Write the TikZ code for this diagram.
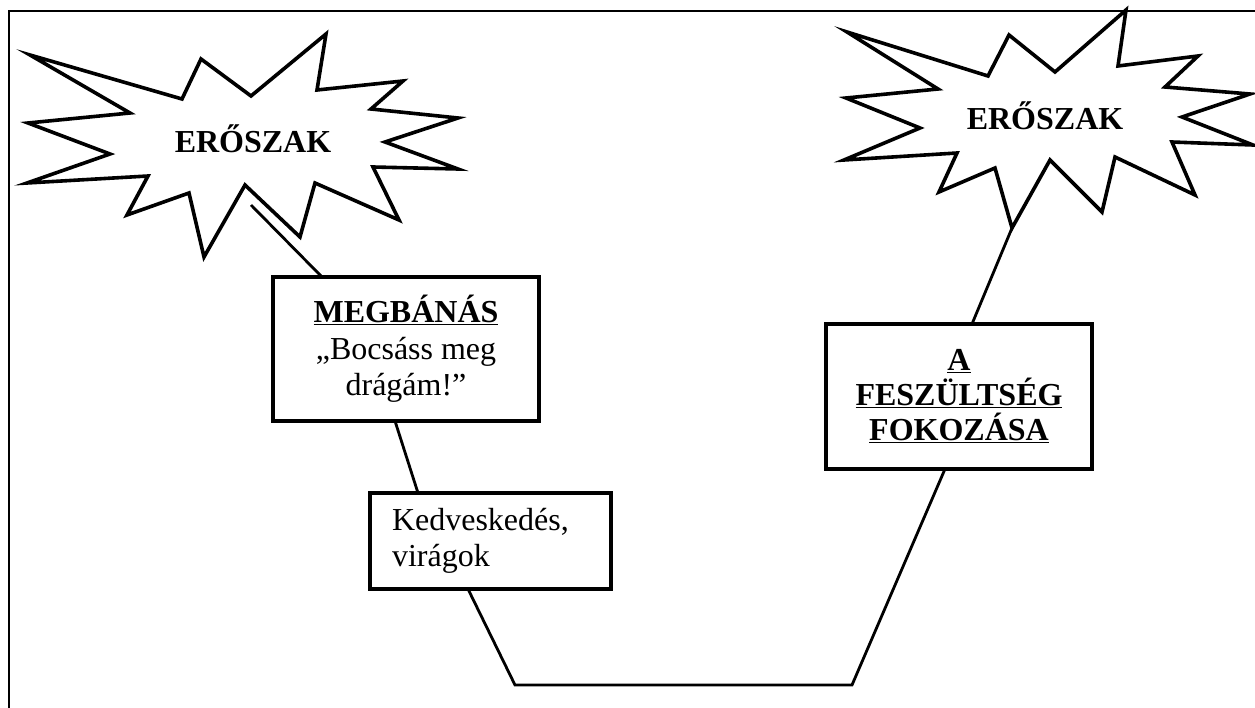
\documentclass[tikz,border=0pt]{standalone}
\usepackage{fontspec}
\setmainfont{Liberation Serif}
\begin{document}
\begin{tikzpicture}[x=1pt,y=-1pt,
  frameline/.style={line width=2.8pt},
  burst/.style={line width=3.6pt,line join=miter,fill=white},
  box/.style={draw,line width=3.6pt,fill=white,inner sep=0pt,
    font=\fontsize{32}{36.5}\selectfont},
  link/.style={line width=2.8pt},
  bursttext/.style={font=\fontsize{32}{36}\selectfont\bfseries}]
\useasboundingbox (0,0) rectangle (1255,708);
% open frame: only its top and left sides lie inside the page
\draw[frameline] (1260,11) -- (9,11) -- (9,712);

% the starburst on the left
\draw[burst] (30,55) -- (182,99) -- (201,59) -- (251,96) -- (326,34) -- (317,90)
  -- (403,81) -- (371,109) -- (458,118) -- (385,142) -- (458,169) -- (373,167)
  -- (399,220) -- (315,183) -- (300,237) -- (245,185) -- (204,257) -- (189,193)
  -- (127,215) -- (148,176) -- (27,183) -- (110,154) -- (28,123) -- (130,113) -- cycle;
\node[bursttext] (burstL) at (253,139) {ERŐSZAK};

% the starburst on the right
\draw[burst] (847,32) -- (988,76) -- (1009,35) -- (1055,72) -- (1126,10) -- (1118,66)
  -- (1198,56) -- (1165,87) -- (1250,94) -- (1182,117) -- (1253,145) -- (1172,142)
  -- (1195,195) -- (1115,157) -- (1102,212) -- (1050,160) -- (1012,228) -- (995,168)
  -- (939,192) -- (957,153) -- (844,160) -- (920,128) -- (846,98) -- (938,89) -- cycle;
\node[bursttext] (burstR) at (1045,116) {ERŐSZAK};

% phase boxes
\node[box,minimum width=266pt,minimum height=144pt,align=center] (megb) at (406,349)
  {\textbf{\underline{MEGBÁNÁS}}\\„Bocsáss meg\\drágám!”};
\node[box,minimum width=241pt,minimum height=96pt,text width=197pt,align=left] (kedv) at (490.5,541)
  {Kedveskedés,\\virágok};
\node[box,minimum width=266pt,minimum height=145pt,align=center,
  font=\fontsize{32}{35}\selectfont\bfseries] (fesz) at (959,396.5)
  {\underline{A}\\\underline{FESZÜLTSÉG}\\\underline{FOKOZÁSA}};

% attachment points of the cycle line
\coordinate (startL) at (251,205);
\coordinate (megbTop) at (322,277);
\coordinate (megbBot) at (395,421);
\coordinate (kedvTop) at (418,493);
\coordinate (kedvBot) at (468,589);
\coordinate (floorL) at (515,685);
\coordinate (floorR) at (852,685);
\coordinate (feszBot) at (945,469);
\coordinate (feszTop) at (972,324);
\coordinate (tipR) at (1012,228);

% the cycle line joining the phases
\draw[link] (startL) -- (megbTop);
\draw[link] (megbBot) -- (kedvTop);
\draw[link] (kedvBot) -- (floorL) -- (floorR) -- (feszBot);
\draw[link] (feszTop) -- (tipR);
\end{tikzpicture}
\end{document}
